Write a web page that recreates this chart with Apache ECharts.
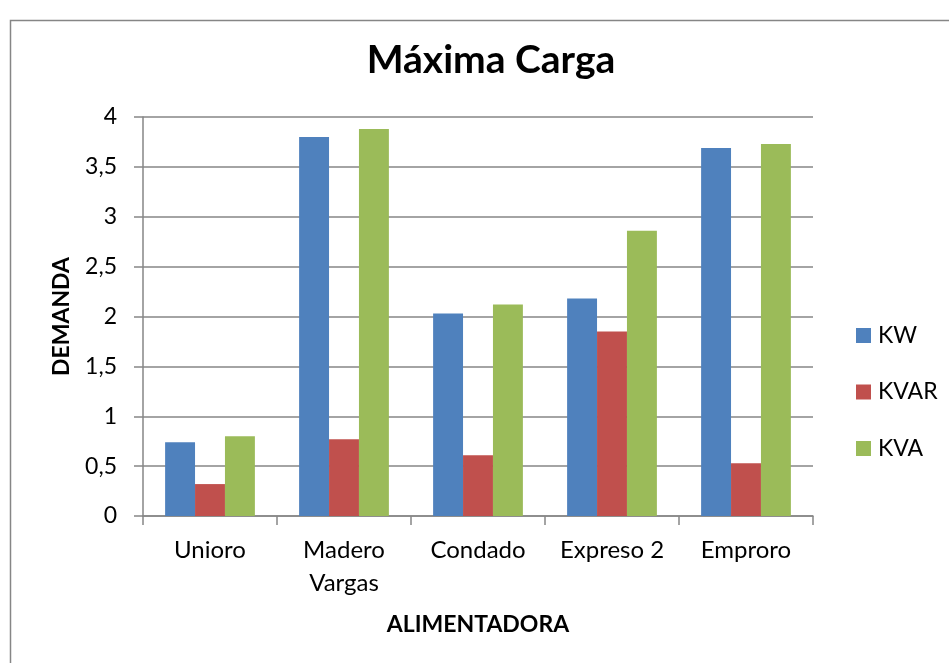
<!DOCTYPE html>
<html>
<head>
<meta charset="utf-8">
<script src="https://cdn.jsdelivr.net/npm/echarts@6/dist/echarts.min.js"></script>
<style>html,body{margin:0;padding:0;background:#fff}#c{width:949px;height:663px}</style>
</head>
<body>
<div id="c"></div>
<script>
const categories = ['Unioro', 'Madero\nVargas', 'Condado', 'Expreso 2', 'Emproro'];
const kw = [0.74, 3.80, 2.03, 2.18, 3.69];
const kvar = [0.32, 0.77, 0.61, 1.85, 0.53];
const kva = [0.80, 3.88, 2.12, 2.86, 3.73];
const seriesNames = ['KW', 'KVAR', 'KVA'];
const colors = ['#4F81BD', '#C0504D', '#9BBB59'];
const FONT = 'Lato, "Open Sans", sans-serif';

const chart = echarts.init(document.getElementById('c'), null, {renderer: 'canvas'});
const data = [kw, kvar, kva];
chart.setOption({
  animation: false,
  graphic: [{
    type: 'rect', shape: {x: 10.5, y: 20.5, width: 960, height: 700},
    style: {fill: 'none', stroke: '#868686', lineWidth: 1.5}, silent: true, z: -1
  }],
  title: {
    text: 'Máxima Carga', left: 486, top: 36, textAlign: 'center',
    textStyle: {fontFamily: FONT, fontWeight: 'bold', fontSize: 39, color: '#000'}
  },
  legend: {
    orient: 'vertical', left: 851, top: 319, itemGap: 33.5,
    itemWidth: 15, itemHeight: 15, icon: 'rect',
    textStyle: {fontFamily: FONT, fontSize: 23, lineHeight: 15, color: '#000', padding: [0, 0, 0, 2]},
    data: seriesNames
  },
  grid: {left: 143, right: 136, top: 117, bottom: 147},
  xAxis: {
    type: 'category', data: categories,
    name: 'ALIMENTADORA', nameLocation: 'middle', nameGap: 97,
    nameTextStyle: {fontFamily: FONT, fontWeight: 'bold', fontSize: 23, color: '#000'},
    axisLine: {lineStyle: {color: '#868686', width: 1.5}},
    axisTick: {show: true, length: 9, alignWithLabel: false, lineStyle: {color: '#868686', width: 1.5}},
    axisLabel: {interval: 0, fontFamily: FONT, fontSize: 24, color: '#000', margin: 18, lineHeight: 33}
  },
  yAxis: {
    type: 'value', min: 0, max: 4, interval: 0.5,
    name: 'DEMANDA', nameLocation: 'middle', nameGap: 70, nameRotate: 90,
    nameTextStyle: {fontFamily: FONT, fontWeight: 'bold', fontSize: 23, color: '#000'},
    axisLine: {show: true, lineStyle: {color: '#868686', width: 1.5}},
    axisTick: {show: true, length: 9, lineStyle: {color: '#868686', width: 1.5}},
    splitLine: {show: true, lineStyle: {color: '#868686', width: 1.5}},
    axisLabel: {fontFamily: FONT, fontSize: 23, color: '#000', margin: 26,
      formatter: v => String(v).replace('.', ',')}
  },
  series: seriesNames.map((n, i) => ({
    name: n, type: 'bar', data: data[i], barGap: '0%', barCategoryGap: '33%',
    itemStyle: {color: colors[i]}
  }))
});
</script>
</body>
</html>
